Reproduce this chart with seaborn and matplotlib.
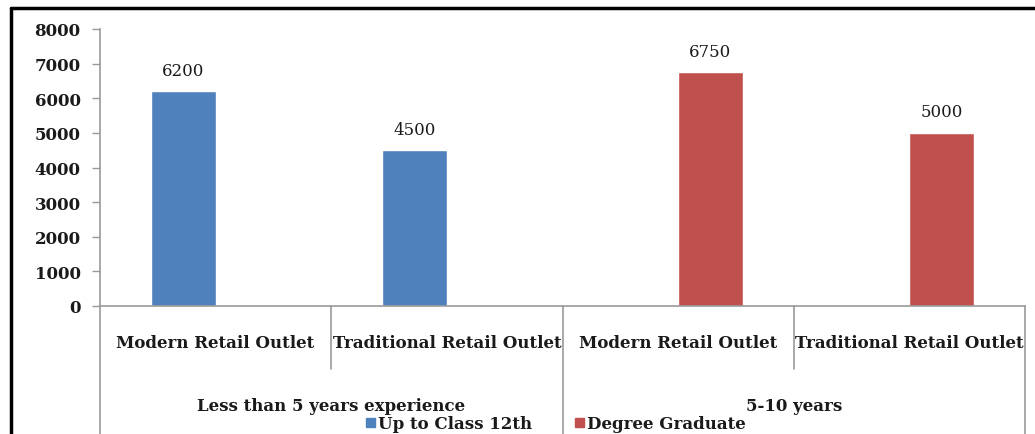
import matplotlib
matplotlib.use("Agg")
import matplotlib.pyplot as plt
import matplotlib.transforms as mtransforms
from matplotlib.lines import Line2D
import seaborn as sns
import pandas as pd

# Chart data
groups = ["Less than 5 years experience", "5-10 years"]
outlets = ["Modern Retail Outlet", "Traditional Retail Outlet"]
series = ["Up to Class 12th", "Degree Graduate"]
up_to_class_12 = [6200, 4500]      # Less than 5 years experience
degree_graduate = [6750, 5000]     # 5-10 years
y_ticks = [0, 1000, 2000, 3000, 4000, 5000, 6000, 7000, 8000]

slots = [f"{g}|{o}" for g in groups for o in outlets]
rows = []
for outlet, v in zip(outlets, up_to_class_12):
    rows.append({"slot": f"{groups[0]}|{outlet}", "series": series[0], "value": v})
for outlet, v in zip(outlets, degree_graduate):
    rows.append({"slot": f"{groups[1]}|{outlet}", "series": series[1], "value": v})
df = pd.DataFrame(rows)

sns.set_theme(style="white")
plt.rcParams["font.family"] = ["DejaVu Serif"]

TEXT = "#1a1a1a"
FS = 12
BOLD = "bold"

W, H = 1035, 435
fig = plt.figure(figsize=(W / 100, H / 100), dpi=100)
ax_left, ax_right, ax_top, ax_bottom = 100, 1025, 30, 307
ax = fig.add_axes([ax_left / W, 1 - ax_bottom / H,
                   (ax_right - ax_left) / W, (ax_bottom - ax_top) / H])

palette = {series[0]: "#4F81BD", series[1]: "#C0504D"}
sns.barplot(data=df, x="slot", y="value", hue="series", order=slots,
            hue_order=series, palette=palette, width=0.56, gap=0,
            dodge=True, saturation=1, errorbar=None, legend=False, ax=ax)

for cont in ax.containers:
    ax.bar_label(cont, fmt="%d", padding=9, fontsize=FS, color=TEXT)

ax.set_ylim(0, 8000)
ax.set_xlim(-0.5, len(slots) - 0.5)
ax.set_yticks(y_ticks)
ax.set_yticklabels([str(t) for t in y_ticks], fontsize=FS, fontweight=BOLD,
                   color=TEXT)
ax.set_xticks(range(len(slots)))
ax.set_xticklabels([s.split("|")[1] for s in slots], fontsize=FS,
                   fontweight=BOLD, color=TEXT)
ax.tick_params(axis="y", left=True, length=6, width=1, color="#999999", pad=8)
ax.tick_params(axis="x", bottom=False, pad=14)
ax.set_xlabel("")
ax.set_ylabel("")

for side in ("top", "right"):
    ax.spines[side].set_visible(False)
for side in ("left", "bottom"):
    ax.spines[side].set_color("#999999")
    ax.spines[side].set_linewidth(1.2)

# Hierarchical category table under the axis
trans = mtransforms.blended_transform_factory(ax.transData, ax.transAxes)
y_full = -(H - ax_bottom) / (ax_bottom - ax_top)
y_short = -(370 - ax_bottom) / (ax_bottom - ax_top)
for xb, y_end in [(-0.5, y_full), (0.5, y_short), (1.5, y_full),
                  (2.5, y_short), (3.5, y_full)]:
    ax.add_line(Line2D([xb, xb], [0, y_end], transform=trans, color="#999999",
                       lw=1.2, clip_on=False))

y_group = -(407 - ax_bottom) / (ax_bottom - ax_top)
for i, g in enumerate(groups):
    ax.text(2 * i + 0.5, y_group, g, transform=trans, ha="center",
            va="center", fontsize=FS, fontweight=BOLD, color=TEXT)

# Legend along the bottom
handles = [plt.Rectangle((0, 0), 1, 1, color=palette[s]) for s in series]
fig.legend(handles, series, loc="center", bbox_to_anchor=(556 / W, 1 - 425 / H),
           ncol=2, frameon=False, handlelength=0.5, handleheight=0.5,
           handletextpad=0.2, columnspacing=2.6,
           prop={"size": FS, "weight": BOLD}, labelcolor=TEXT)

# Outer frame (top and left edges)
fig.add_artist(Line2D([11 / W, 1], [1 - 9 / H, 1 - 9 / H],
                      transform=fig.transFigure, color="black", lw=2.5))
fig.add_artist(Line2D([11 / W, 11 / W], [0, 1 - 9 / H],
                      transform=fig.transFigure, color="black", lw=2.5))

fig.savefig("out.png", dpi=100, facecolor="white")
